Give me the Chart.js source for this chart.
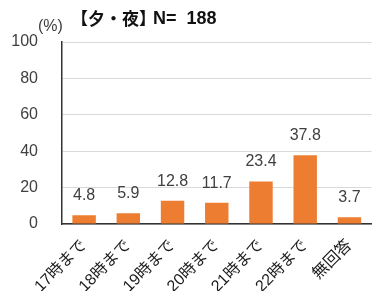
<!DOCTYPE html>
<html><head><meta charset="utf-8">
<script src="https://cdn.jsdelivr.net/npm/chart.js@4/dist/chart.umd.min.js"></script>
<style>html,body{margin:0;padding:0;background:#fff;overflow:hidden}#wrap{width:375px;height:291px}</style>
</head><body><div id="wrap"><canvas id="c"></canvas></div>
<script>
const categories = ['17時まで','18時まで','19時まで','20時まで','21時まで','22時まで','無回答'];
const values = [4.8, 5.9, 12.8, 11.7, 23.4, 37.8, 3.7];
const yTicks = [0, 20, 40, 60, 80, 100];
const titleHead = '【夕・夜】';
const titleTail = 'N=  188';
const unitText = '(%)';

const FONT = '"Liberation Sans", Arial, "Noto Sans CJK JP", sans-serif';
const TXT = '#404040';

const overlay = {
  id: 'overlay',
  afterDatasetsDraw(chart) {
    const ctx = chart.ctx;
    ctx.save();
    ctx.fillStyle = TXT;
    ctx.font = '16px ' + FONT;
    ctx.textAlign = 'center';
    ctx.textBaseline = 'alphabetic';
    chart.getDatasetMeta(0).data.forEach((bar, i) => {
      ctx.fillText(values[i].toFixed(1), bar.x, bar.y - 15);
    });
    ctx.restore();
  },
  afterDraw(chart) {
    const ctx = chart.ctx;
    ctx.save();
    ctx.fillStyle = TXT;
    ctx.textBaseline = 'middle';
    ctx.textAlign = 'left';
    ctx.font = '16px ' + FONT;
    ctx.fillText(unitText, 38, 27);
    ctx.fillStyle = '#111';
    ctx.font = 'bold 17px "Noto Sans CJK JP", sans-serif';
    ctx.fillText(titleHead, 71, 19);
    ctx.font = 'bold 18px ' + FONT;
    ctx.fillText(titleTail, 153, 19);
    ctx.restore();
  }
};

new Chart(document.getElementById('c'), {
  type: 'bar',
  data: {
    labels: categories,
    datasets: [{
      data: values,
      backgroundColor: '#ED7D31',
      borderWidth: 0,
      categoryPercentage: 1,
      barPercentage: 0.53
    }]
  },
  options: {
    responsive: true,
    maintainAspectRatio: false,
    animation: false,
    events: [],
    layout: { padding: { top: 42, right: 0, left: 0, bottom: 0 } },
    plugins: { legend: { display: false }, tooltip: { enabled: false }, title: { display: false } },
    scales: {
      y: {
        min: 0, max: 100,
        afterFit(s) { s.width = 62; },
        afterBuildTicks(s) { s.ticks = yTicks.map(v => ({ value: v })); },
        ticks: { color: TXT, font: { size: 16, family: FONT }, padding: 24 },
        grid: { color: '#d9d9d9', lineWidth: 1, drawTicks: false },
        border: { color: '#333', width: 1.5 }
      },
      x: {
        afterFit(s) { s.height = 67; },
        ticks: { color: '#1a1a1a', font: { size: 16, family: FONT }, minRotation: 45, maxRotation: 45, autoSkip: false, padding: 12 },
        grid: { display: false, drawTicks: false },
        border: { color: '#333', width: 1.5 }
      }
    }
  },
  plugins: [overlay]
});
</script></body></html>
